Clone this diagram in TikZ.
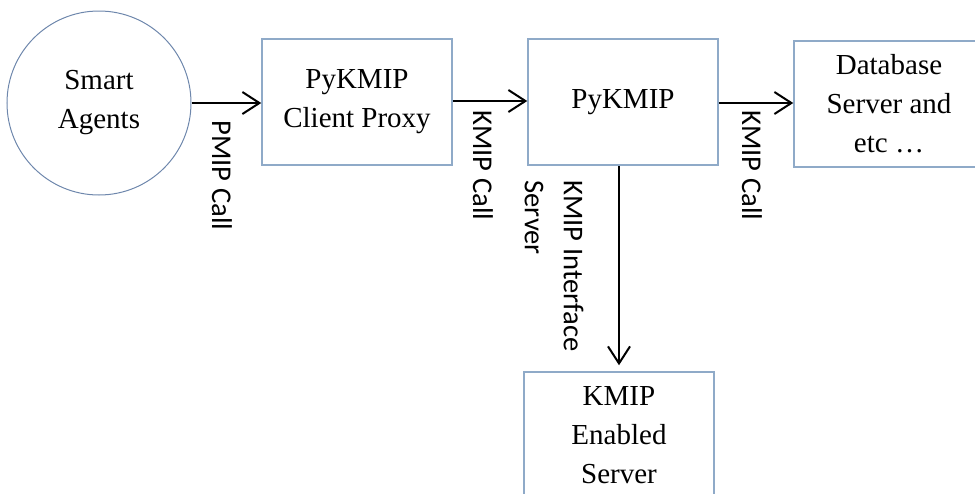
\documentclass[tikz,border=0pt]{standalone}
\usepackage{fontspec}
\setmainfont{Liberation Serif}
\newfontfamily\callfont{Carlito}
\usetikzlibrary{arrows.meta}
\definecolor{boxline}{RGB}{143,170,200}
\definecolor{ringline}{RGB}{110,135,172}
\tikzset{
  blk/.style={draw=boxline, line width=0.75pt, minimum width=95pt, minimum height=63pt,
    align=center, font=\fontsize{14.5}{19.5}\selectfont},
  call/.style={-{Straight Barb[length=8.5pt,width=11pt,line width=1pt]}, line width=1pt},
  lbl/.style={rotate=-90, inner sep=0pt, font=\callfont\fontsize{14.3}{19.5}\selectfont}
}
\begin{document}
\begin{tikzpicture}[x=0.5pt,y=-0.5pt]
  \useasboundingbox (0,0) rectangle (975,493);
  \node [circle, draw=ringline, line width=0.5pt, minimum size=92pt, align=center,
    font=\fontsize{14.5}{19.5}\selectfont] (agents) at (99,103) {Smart\\Agents};
  \node [blk] (proxy) at (357,102) {PyKMIP\\Client Proxy};
  \node [blk] (pykmip) at (623,102) {PyKMIP};
  \node [blk] (dbase) at (889,104) {Database\\Server and\\etc \dots};
  \node [blk] (enabled) at (619,435) {KMIP\\Enabled\\Server};

  \draw [call] (agents.east |- 0,103) -- (proxy.west |- 0,103);
  \draw [call] (proxy.east |- 0,101) -- (pykmip.west |- 0,101);
  \draw [call] (pykmip.east |- 0,103) -- (dbase.west |- 0,103);
  \draw [call, shorten >=3pt] (pykmip.south -| enabled) -- (enabled.north); %下向き

  \node [lbl, anchor=west] (pmip) at (222,120) {PMIP Call};
  \node [lbl, anchor=west] (kcall) at (483,110) {KMIP Call};
  \node [lbl, anchor=west] (kcall2) at (752,110) {KMIP Call};
  \node [lbl, anchor=north west, align=left] (iface) at (584,180) {KMIP Interface\\Server};
\end{tikzpicture}
\end{document}
